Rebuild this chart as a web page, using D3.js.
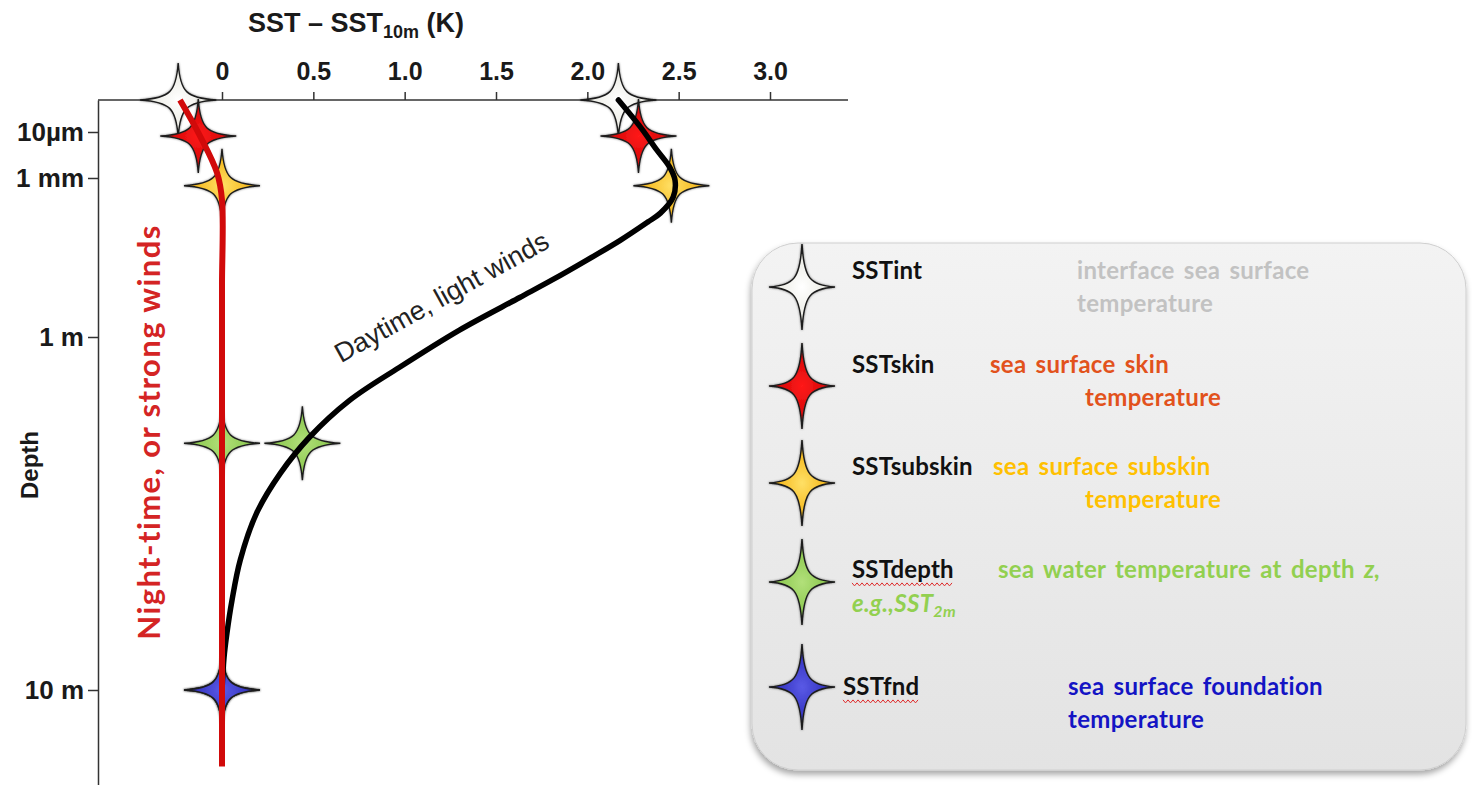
<!DOCTYPE html>
<html>
<head>
<meta charset="utf-8">
<script src="https://cdn.jsdelivr.net/npm/d3@7"></script>
<style>
  html, body { margin: 0; background: #ffffff; }
  svg { display: block; }
</style>
</head>
<body>
<svg id="chart" width="1472" height="785"></svg>
<script>
// ---- Temperature categories and where they sit in the water column ----
const sstTypes   = ["SSTint", "SSTskin", "SSTsubskin", "SSTdepth", "SSTfnd"];
const sstDepth   = [0, 1.5e-5, 1.4e-3, 2, 10];          // metres (0 = air-sea interface)
const nightDT    = [-0.24, -0.13, 0, 0, 0];              // SST - SST10m (K), night / strong wind
const dayDT      = [2.17, 2.28, 2.46, 0.44, 0];          // SST - SST10m (K), day / light wind

// ---- Vertical temperature profiles ----
const dayProfileDepth = [0, 6e-6, 6e-5, 3.3e-4, 1.1e-3, 2.3e-3, 4.6e-3, 6.8e-3, 0.015, 0.035,
                         0.083, 0.18, 0.74, 1.22, 1.51, 1.92, 2.43, 3.15, 4.28, 5.56, 6.9, 8.1, 10];
const dayProfileDT    = [2.17, 2.29, 2.38, 2.45, 2.48, 2.47, 2.40, 2.33, 2.18, 2.00,
                         1.81, 1.63, 1.30, 0.97, 0.70, 0.48, 0.32, 0.19, 0.10, 0.055, 0.027, 0.011, 0];
const nightProfileDepth = [0, 1.5e-5, 6e-4, 2.6e-3, 0.1, 1, 10, 16.5];
const nightProfileDT    = [-0.23, -0.12, -0.027, 0, 0, 0, 0, 0];

// ---- Axis ticks ----
const xTicks      = [0, 0.5, 1.0, 1.5, 2.0, 2.5, 3.0];
const xTickLabels = ["0", "0.5", "1.0", "1.5", "2.0", "2.5", "3.0"];
const depthTicks      = [1e-5, 1e-3, 1, 10];
const depthTickLabels = ["10\u00b5m", "1 mm", "1 m", "10 m"];

// ---- Legend wording ----
const legendLine1 = ["interface sea surface", "sea surface skin", "sea surface subskin",
                     "sea water temperature at depth ", "sea surface foundation"];
const legendLine2 = ["temperature", "temperature", "temperature", "", "temperature"];

// ---- Styles ----
const starFill = {
  SSTint:     ["#ffffff", "#e4e4da"],
  SSTskin:    ["#ff1a1a", "#c40000"],
  SSTsubskin: ["#ffe066", "#f2a900"],
  SSTdepth:   ["#b2e07a", "#7ec040"],
  SSTfnd:     ["#5a5ae6", "#2424b0"]
};
const descColor = {
  SSTint: "#c2c2c2", SSTskin: "#e2521c", SSTsubskin: "#ffc000",
  SSTdepth: "#92d050", SSTfnd: "#1414c4"
};

const svg = d3.select("#chart");
const defs = svg.append("defs");

// radial fills for the four-point stars
sstTypes.forEach(t => {
  const g = defs.append("radialGradient").attr("id", "fill-" + t)
    .attr("cx", "50%").attr("cy", "50%").attr("r", "50%");
  g.append("stop").attr("offset", "0%").attr("stop-color", starFill[t][0]);
  g.append("stop").attr("offset", "100%").attr("stop-color", starFill[t][1]);
});
const boxGrad = defs.append("linearGradient").attr("id", "boxFill")
  .attr("x1", 0).attr("y1", 0).attr("x2", 0).attr("y2", 1);
boxGrad.append("stop").attr("offset", "0%").attr("stop-color", "#f3f3f3");
boxGrad.append("stop").attr("offset", "100%").attr("stop-color", "#e3e3e3");
const shadow = defs.append("filter").attr("id", "boxShadow")
  .attr("x", "-5%").attr("y", "-5%").attr("width", "110%").attr("height", "115%");
shadow.append("feDropShadow").attr("dx", -1).attr("dy", 4).attr("stdDeviation", 3)
  .attr("flood-color", "#000").attr("flood-opacity", 0.35);
const starShadow = defs.append("filter").attr("id", "starShadow")
  .attr("x", "-30%").attr("y", "-30%").attr("width", "160%").attr("height", "160%");
starShadow.append("feDropShadow").attr("dx", 0).attr("dy", 0).attr("stdDeviation", 1.2)
  .attr("flood-color", "#000").attr("flood-opacity", 0.5);

// ---- Scales ----
const plotLeft = 98, plotRight = 848, plotTop = 100, plotBottom = 785;
const x = d3.scaleLinear().domain([0, 3]).range([222, 770]);
// schematic depth axis: piecewise in log10(depth)
const yLog = d3.scaleLinear()
  .domain([-6.4, -5, -3, 0, 1, 1.27])
  .range([plotTop, 132, 178, 337, 690, plotBottom]);
const depthY = d => yLog(d > 0 ? Math.log10(d) : yLog.domain()[0]);

// ---- Axes ----
const axisFont = "'Liberation Sans', Arial, sans-serif";

svg.append("line")
  .attr("x1", plotLeft).attr("x2", plotRight)
  .attr("y1", plotTop).attr("y2", plotTop)
  .attr("stroke", "#333").attr("stroke-width", 1.5);

const xAxis = svg.append("g").attr("transform", `translate(0,${plotTop})`)
  .call(d3.axisTop(x).tickValues(xTicks).tickFormat((d, i) => xTickLabels[i])
    .tickSize(8).tickSizeOuter(0).tickPadding(12));
xAxis.select(".domain").remove();
xAxis.selectAll(".tick line").attr("stroke", "#333").attr("stroke-width", 1.5);
xAxis.selectAll(".tick text")
  .attr("font-family", axisFont).attr("font-weight", "bold")
  .attr("font-size", 25).attr("fill", "#1a1a1a");

const yAxis = svg.append("g").attr("transform", `translate(${plotLeft},0)`)
  .call(d3.axisLeft(yLog).tickValues(depthTicks.map(Math.log10))
    .tickFormat((d, i) => depthTickLabels[i]).tickSize(10).tickSizeOuter(0).tickPadding(4));
yAxis.select(".domain").attr("stroke", "#333").attr("stroke-width", 1.5);
yAxis.selectAll(".tick line").attr("stroke", "#333").attr("stroke-width", 1.5);
yAxis.selectAll(".tick text")
  .attr("font-family", axisFont).attr("font-weight", "bold")
  .attr("font-size", 26).attr("fill", "#1a1a1a");

// axis titles
const title = svg.append("text")
  .attr("x", 248).attr("y", 32)
  .attr("font-family", axisFont).attr("font-weight", "bold")
  .attr("font-size", 27).attr("fill", "#1a1a1a");
title.append("tspan").text("SST \u2013 SST");
title.append("tspan").attr("font-size", 18).attr("dy", 6).text("10m");
title.append("tspan").attr("dy", -6).text(" (K)");

svg.append("text")
  .attr("transform", "translate(38,465) rotate(-90)")
  .attr("text-anchor", "middle")
  .attr("font-family", axisFont).attr("font-weight", "bold")
  .attr("font-size", 24).attr("fill", "#1a1a1a")
  .text("Depth");

// ---- Four-point star shape ----
function starPath(rx, ry) {
  const a = 2, b = 8;
  return `M0,${-ry}` +
    `C${a},${-b} ${b},${-a} ${rx},0` +
    `C${b},${a} ${a},${b} 0,${ry}` +
    `C${-a},${b} ${-b},${a} ${-rx},0` +
    `C${-b},${-a} ${-a},${-b} 0,${-ry}Z`;
}

// ---- Stars on the profiles ----
const starRows = sstTypes.map((t, i) => ({ type: t, depth: sstDepth[i], night: nightDT[i], day: dayDT[i] }));
const starLayer = svg.append("g");
["night", "day"].forEach(key => {
  starLayer.selectAll(null).data(starRows).enter().append("path")
    .attr("d", starPath(38, 37))
    .attr("transform", d => `translate(${x(d[key])},${depthY(d.depth)})`)
    .attr("fill", d => `url(#fill-${d.type})`)
    .attr("stroke", "#1e1e1e").attr("stroke-width", 1.4)
    .attr("filter", "url(#starShadow)");
});

// ---- Profile curves ----
const line = d3.line()
  .x(d => x(d[1]))
  .y(d => depthY(d[0]))
  .curve(d3.curveCatmullRom.alpha(0.5));

svg.append("path")
  .datum(d3.zip(dayProfileDepth, dayProfileDT))
  .attr("d", line)
  .attr("fill", "none").attr("stroke", "#000")
  .attr("stroke-width", 5.5).attr("stroke-linecap", "round");

svg.append("path")
  .datum(d3.zip(nightProfileDepth, nightProfileDT))
  .attr("d", line)
  .attr("fill", "none").attr("stroke", "#d10a0a")
  .attr("stroke-width", 6).attr("stroke-linecap", "butt");

// curve annotations
svg.append("text")
  .attr("transform", "translate(446,305) rotate(-29)")
  .attr("text-anchor", "middle")
  .attr("font-family", axisFont).attr("font-size", 27).attr("fill", "#222")
  .text("Daytime, light winds");

svg.append("text")
  .attr("transform", "translate(160,432) rotate(-90)")
  .attr("text-anchor", "middle")
  .attr("font-family", "Lato, 'Open Sans', sans-serif").attr("font-weight", "bold")
  .attr("font-size", 31).attr("letter-spacing", 1.4).attr("fill", "#d42424")
  .text("Night-time, or strong winds");

// ---- Legend ----
const legendFont = "Lato, 'Open Sans', sans-serif";
svg.append("rect")
  .attr("x", 752).attr("y", 243).attr("width", 714).attr("height", 527)
  .attr("rx", 46).attr("ry", 46)
  .attr("fill", "url(#boxFill)").attr("stroke", "#cfcfcf").attr("stroke-width", 1)
  .attr("filter", "url(#boxShadow)");

const rowStarY = [287, 386, 483, 582, 687];
const rowNameY = [271, 365, 467, 570, 687];
const rowNameX = [852, 852, 852, 852, 843];
const rowDescX = [1077, 990, 993, 998, 1068];
const rowDesc2X = [1077, 1085, 1085, 0, 1068];

const legend = svg.append("g");
const legendText = sel => sel
  .attr("font-family", legendFont).attr("font-weight", "bold")
  .attr("font-size", 24).attr("letter-spacing", 0.3).attr("word-spacing", 3);

sstTypes.forEach((t, i) => {
  legend.append("path")
    .attr("d", starPath(33, 43))
    .attr("transform", `translate(802,${rowStarY[i]})`)
    .attr("fill", `url(#fill-${t})`)
    .attr("stroke", "#1e1e1e").attr("stroke-width", 1.5)
    .attr("filter", "url(#starShadow)");

  legend.append("text")
    .attr("x", rowNameX[i]).attr("y", rowNameY[i]).attr("dy", "0.35em")
    .call(legendText).attr("letter-spacing", 0.2).attr("fill", "#111")
    .text(t);

  const d1 = legend.append("text")
    .attr("x", rowDescX[i]).attr("y", rowNameY[i]).attr("dy", "0.35em")
    .call(legendText).attr("fill", descColor[t]);
  d1.append("tspan").text(legendLine1[i]);
  if (t === "SSTdepth") d1.append("tspan").attr("font-style", "italic").text("z,");

  if (legendLine2[i]) {
    legend.append("text")
      .attr("x", rowDesc2X[i]).attr("y", rowNameY[i] + 33).attr("dy", "0.35em")
      .call(legendText).attr("fill", descColor[t])
      .text(legendLine2[i]);
  }
});

// example of a depth temperature beneath SSTdepth
const eg = legend.append("text")
  .attr("x", 852).attr("y", 604).attr("dy", "0.35em")
  .call(legendText).attr("font-style", "italic")
  .attr("fill", descColor.SSTdepth);
eg.append("tspan").text("e.g.,SST");
eg.append("tspan").attr("font-size", 16).attr("dy", 5).text("2m");

// wavy underlines under the two coined names
function wavy(x0, x1, y0) {
  const pts = [];
  for (let xx = x0, k = 0; xx <= x1; xx += 2.5, k++) pts.push([xx, y0 + (k % 2 ? 1.5 : -1.5)]);
  return d3.line()(pts);
}
["SSTdepth", "SSTfnd"].forEach(name => {
  const node = legend.selectAll("text").filter(function () { return this.textContent === name; }).node();
  const bb = node.getBBox();
  legend.append("path").attr("d", wavy(bb.x, bb.x + bb.width, bb.y + bb.height + 1))
    .attr("fill", "none").attr("stroke", "#e03030").attr("stroke-width", 1);
});
</script>
</body>
</html>
